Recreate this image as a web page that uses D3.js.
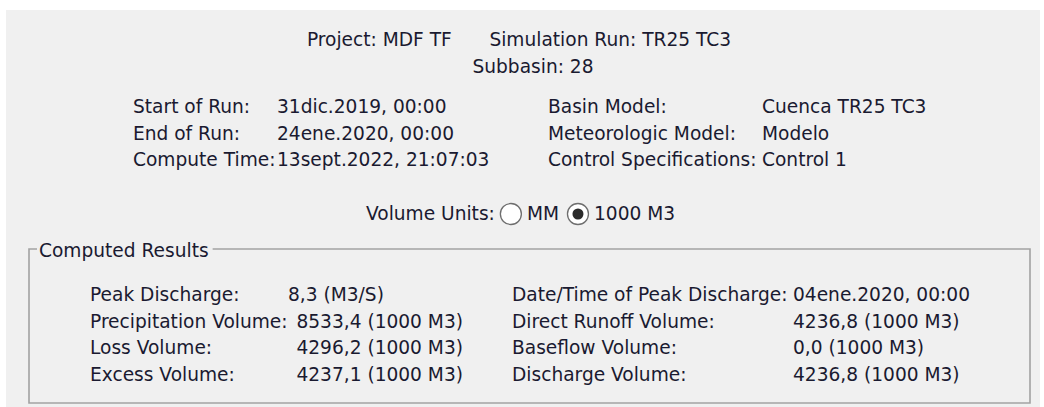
<!DOCTYPE html>
<html lang="en">
    <head>
        <meta charset="utf-8">
        <title>Subbasin summary</title>
        <style>
            body { margin: 0; background: #ffffff; }
            svg { display: block; }
            text {
                font-family: "DejaVu Sans", sans-serif;
                font-size: 18.6px;
                fill: #1a1a30;
            }
        </style>
    </head>
    <body>
        <svg width="1044" height="407"></svg>
        <script src="https://d3js.org/d3.v7.min.js"></script>
        <script>
            // header
            var projectText = "Project: MDF TF",
                runText = "Simulation Run: TR25 TC3",
                subbasinText = "Subbasin: 28";

            // run info block
            var runLabels = ["Start of Run:", "End of Run:", "Compute Time:"];
            var runValues = ["31dic.2019, 00:00", "24ene.2020, 00:00", "13sept.2022, 21:07:03"];
            var modelLabels = ["Basin Model:", "Meteorologic Model:", "Control Specifications:"];
            var modelValues = ["Cuenca TR25 TC3", "Modelo", "Control 1"];

            // volume units
            var unitOptions = ["MM", "1000 M3"];
            var selectedUnit = "1000 M3";

            // computed results
            var resultLabelsLeft = ["Peak Discharge:", "Precipitation Volume:", "Loss Volume:", "Excess Volume:"];
            var resultValuesLeft = ["8,3 (M3/S)", "8533,4 (1000 M3)", "4296,2 (1000 M3)", "4237,1 (1000 M3)"];
            var resultLabelsRight = ["Date/Time of Peak Discharge:", "Direct Runoff Volume:", "Baseflow Volume:", "Discharge Volume:"];
            var resultValuesRight = ["04ene.2020, 00:00", "4236,8 (1000 M3)", "0,0 (1000 M3)", "4236,8 (1000 M3)"];

            var svg = d3.select("svg");

            var panel = {x: 6, y: 10, w: 1034, h: 400};
            var cx = 519;

            svg.append("rect")
                .attr("x", panel.x).attr("y", panel.y)
                .attr("width", panel.w).attr("height", panel.h)
                .attr("fill", "#f0f0f0");

            // header lines, centred
            var head = svg.append("text")
                .attr("x", cx).attr("y", 46)
                .attr("text-anchor", "middle");
            head.append("tspan").text(projectText);
            head.append("tspan").attr("dx", 38).text(runText);

            svg.append("text")
                .attr("x", cx + 14).attr("y", 73)
                .attr("text-anchor", "middle")
                .text(subbasinText);

            function width(sel) { return sel.node().getComputedTextLength(); }

            // label/value pairs; value starts at column x unless label runs into it
            function pairBlock(labels, values, labelX, valueX, yScale) {
                var g = svg.append("g");
                labels.forEach(function(l, i) {
                    var lt = g.append("text")
                        .attr("x", labelX).attr("y", yScale(i))
                        .text(l);
                    var end = labelX + width(lt);
                    g.append("text")
                        .attr("x", Math.max(valueX, end))
                        .attr("y", yScale(i))
                        .text(values[i]);
                });
            }

            var yInfo = d3.scaleLinear().domain([0, 2]).range([113, 166]);
            pairBlock(runLabels, runValues, 133, 277, yInfo);
            pairBlock(modelLabels, modelValues, 548, 762, yInfo);

            // volume units radio row
            var unitsRow = svg.append("g");
            var ul = unitsRow.append("text")
                .attr("x", 366).attr("y", 220)
                .text("Volume Units:");
            var ux = 366 + width(ul) + 5;
            unitOptions.forEach(function(u) {
                unitsRow.append("circle")
                    .attr("cx", ux + 11).attr("cy", 214).attr("r", 10.5)
                    .attr("fill", "#ffffff")
                    .attr("stroke", "#6e6e6e")
                    .attr("stroke-width", 1.3);
                if (u === selectedUnit) {
                    unitsRow.append("circle")
                        .attr("cx", ux + 11).attr("cy", 214).attr("r", 5.5)
                        .attr("fill", "#2a2a2a");
                }
                var t = unitsRow.append("text")
                    .attr("x", ux + 27).attr("y", 220)
                    .text(u);
                ux += 27 + width(t) + 8;
            });

            // computed results group box
            var box = {x: 29, y: 249, r: 1030, b: 403};
            var title = svg.append("text")
                .attr("x", 39).attr("y", 257)
                .text("Computed Results");
            var tEnd = 39 + width(title) + 4;
            svg.append("path")
                .attr("d", "M" + 37 + "," + box.y + "H" + box.x + "V" + box.b + "H" + box.r + "V" + box.y + "H" + tEnd)
                .attr("fill", "none")
                .attr("stroke", "#a2a2a2")
                .attr("stroke-width", 1.6);

            var yRes = d3.scaleLinear().domain([0, 3]).range([301, 381]);

            // left results: volumes sit flush right at the column edge
            var resLeft = svg.append("g");
            resultLabelsLeft.forEach(function(l, i) {
                var lt = resLeft.append("text")
                    .attr("x", 90).attr("y", yRes(i))
                    .text(l);
                var end = 90 + width(lt);
                var vt = resLeft.append("text")
                    .attr("y", yRes(i))
                    .text(resultValuesLeft[i]);
                var volume = resultValuesLeft[i].indexOf("1000 M3") >= 0;
                var vx = volume ? 463 - width(vt) : 288;
                vt.attr("x", Math.max(vx, end));
            });

            pairBlock(resultLabelsRight, resultValuesRight, 512, 793, yRes);
        </script>
    </body>
</html>
